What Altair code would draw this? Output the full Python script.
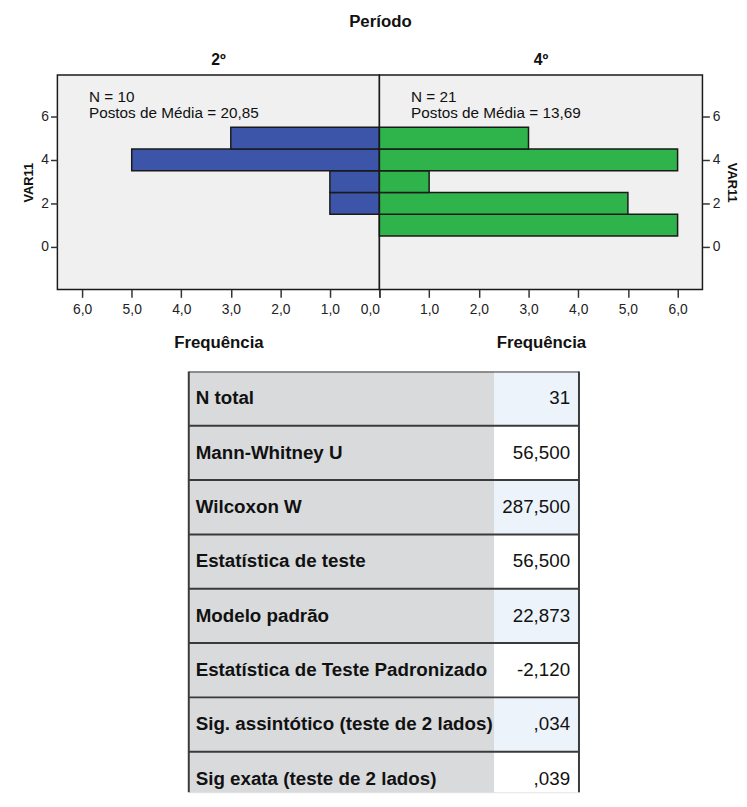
import altair as alt
import pandas as pd

# ---- data ----
var11 = [1, 2, 3, 4, 5]
freq_2 = [0, 1, 1, 5, 3]      # Período 2º
freq_4 = [6, 5, 1, 6, 3]      # Período 4º
group_titles = ["2º", "4º"]
n_text = ["N = 10", "N = 21"]
rank_text = ["Postos de Média = 20,85", "Postos de Média = 13,69"]
y_ticks = [0, 2, 4, 6]
x_ticks = [0, 1, 2, 3, 4, 5, 6]

stat_labels = [
    "N total",
    "Mann-Whitney U",
    "Wilcoxon W",
    "Estatística de teste",
    "Modelo padrão",
    "Estatística de Teste Padronizado",
    "Sig. assintótico (teste de 2 lados)",
    "Sig exata (teste de 2 lados)",
]
stat_values = ["31", "56,500", "287,500", "56,500", "22,873", "-2,120", ",034", ",039"]

# ---- style ----
FONT = "Liberation Sans"
W_L, W_R, H = 326, 327, 217
X_DOM = [0, 6.5]
Y_DOM = [-1.95, 7.9]
BLUE = "#3d55a9"
GREEN = "#2fb34b"
EDGE = "#1a1a1a"


def panel(freqs, color, title, n_lbl, rank_lbl, side):
    df = pd.DataFrame({"VAR11": var11, "freq": freqs})
    df = df[df["freq"] > 0]
    xscale = alt.Scale(domain=X_DOM, reverse=(side == "left"), nice=False, zero=False)
    yscale = alt.Scale(domain=Y_DOM, nice=False, zero=False)
    lab = "replace(format(datum.value, '.1f'), '.', ',')"
    if side == "right":
        lab = "datum.value == 0 ? '' : " + lab
    xaxis = alt.Axis(
        title="Frequência", values=x_ticks, labelExpr=lab, grid=False, domain=False,
        tickSize=8, tickColor="#333333", tickWidth=1.5,
        labelFont=FONT, labelFontSize=14, labelColor="#222222", labelPadding=5,
        titleFont=FONT, titleFontSize=17, titleFontWeight="bold", titleColor="#111111",
        titlePadding=19,
    )
    yaxis = alt.Axis(
        title="VAR11", orient=side, values=y_ticks, grid=False, domain=False,
        tickSize=7, tickColor="#333333", tickWidth=1.5,
        labelFont=FONT, labelFontSize=14, labelColor="#222222",
        labelPadding=2 if side == "left" else 3,
        titleFont=FONT, titleFontSize=13, titleFontWeight="bold", titleColor="#111111",
        titleAngle=270 if side == "left" else 90, titlePadding=5,
    )
    bars = (
        alt.Chart(df)
        .transform_calculate(lo="datum.VAR11 - 0.5", hi="datum.VAR11 + 0.5", zero="0")
        .mark_rect(color=color, stroke=EDGE, strokeWidth=1.5)
        .encode(
            x=alt.X("freq:Q", scale=xscale, axis=xaxis),
            x2="zero:Q",
            y=alt.Y("lo:Q", scale=yscale, axis=yaxis),
            y2="hi:Q",
        )
    )
    one = pd.DataFrame({"k": [0]})
    t1 = alt.Chart(one).mark_text(align="left", baseline="middle", font=FONT, fontSize=15.5,
                                  color="#111111").encode(
        x=alt.value(32), y=alt.value(22), text=alt.value(n_lbl))
    t2 = alt.Chart(one).mark_text(align="left", baseline="middle", font=FONT, fontSize=15.5,
                                  color="#111111").encode(
        x=alt.value(32), y=alt.value(38), text=alt.value(rank_lbl))
    return alt.layer(bars, t1, t2).properties(
        width=W_L if side == "left" else W_R,
        height=H,
        title=alt.TitleParams(title, font=FONT, fontSize=16, fontWeight="bold",
                              color="#111111", anchor="middle", offset=7),
        view=alt.ViewBackground(fill="#f0f0f0", stroke=EDGE, strokeWidth=1.5),
    )


left = panel(freq_2, BLUE, group_titles[0], n_text[0], rank_text[0], "left")
right = panel(freq_4, GREEN, group_titles[1], n_text[1], rank_text[1], "right")

top = alt.hconcat(left, right, spacing=0, bounds="flush").properties(
    title=alt.TitleParams("Período", font=FONT, fontSize=17, fontWeight="bold",
                          color="#111111", anchor="middle", offset=21)
)

# ---- table ----
ROW_H = 55
T_H = 426
T_W1, T_W2 = 309, 86
SPACER = 133
tdf = pd.DataFrame({"row": list(range(len(stat_labels))), "label": stat_labels, "value": stat_values})
bdf = pd.DataFrame({"b": list(range(len(stat_labels) + 1))})
tscale = alt.Scale(domain=[0, T_H / ROW_H], reverse=True, nice=False, zero=False)


def table_col(width, fill_expr, text_field, text_x, align, weight):
    base = alt.Chart(tdf).transform_calculate(
        r2="datum.row + 1", mid="datum.row + 0.5", fillc=fill_expr
    )
    cells = base.mark_rect(clip=True).encode(
        x=alt.value(0), x2=alt.value(width),
        y=alt.Y("row:Q", scale=tscale, axis=None), y2="r2:Q",
        fill=alt.Fill("fillc:N", scale=None),
    )
    txt = base.mark_text(align=align, baseline="middle", font=FONT, fontSize=19,
                         fontWeight=weight, color="#111111", clip=True).encode(
        x=alt.value(text_x), y=alt.Y("mid:Q", scale=tscale, axis=None),
        text=f"{text_field}:N",
    )
    lines = alt.Chart(bdf).mark_rule(color="#3a3a3a", strokeWidth=2, clip=True).encode(
        y=alt.Y("b:Q", scale=tscale, axis=None)
    )
    return alt.layer(cells, lines, txt).properties(width=width, height=T_H)


one = pd.DataFrame({"k": [0]})
lab_col = table_col(T_W1, "'#d9dadc'", "label", 7, "left", "bold")
val_col = table_col(T_W2, "datum.row % 2 == 0 ? '#ecf3fb' : '#ffffff'", "value", 77, "right", "normal")
edge_l = alt.Chart(one).mark_rule(color="#3a3a3a", strokeWidth=2).encode(
    x=alt.value(0), y=alt.value(0), y2=alt.value(T_H))
edge_r = alt.Chart(one).mark_rule(color="#3a3a3a", strokeWidth=2).encode(
    x=alt.value(T_W2), y=alt.value(0), y2=alt.value(T_H))
lab_col = alt.layer(lab_col, edge_l)
val_col = alt.layer(val_col, edge_r)
spacer = alt.Chart(one).mark_rect(opacity=0).encode(
    x=alt.value(0), x2=alt.value(SPACER), y=alt.value(0), y2=alt.value(4)
).properties(width=SPACER, height=T_H,
             view=alt.ViewBackground(stroke="transparent", fill="transparent"))

table = alt.hconcat(spacer, lab_col, val_col, spacing=0, bounds="flush")

chart = (
    alt.vconcat(top, table, spacing=18)
    .properties(padding={"left": 14, "top": 0, "right": 0, "bottom": 0})
    .configure_view(strokeWidth=0, stroke="transparent")
    .configure(font=FONT, background="white")
)

chart.save("out.html", embed_options={"renderer": "svg", "actions": False})
